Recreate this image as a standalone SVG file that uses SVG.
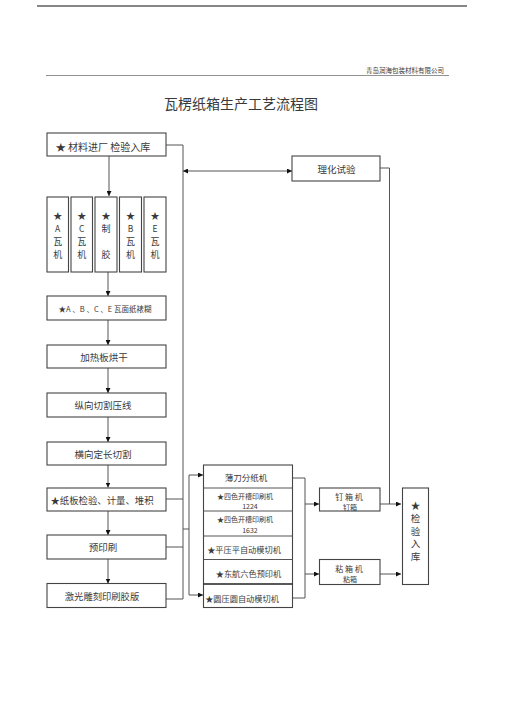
<svg xmlns="http://www.w3.org/2000/svg" width="505" height="714" viewBox="0 0 505 714">
<style>
text{font-family:"Noto Sans CJK SC","Liberation Serif",serif;fill:#3a3a3a;text-anchor:middle;dominant-baseline:central}
.box{fill:#fff;stroke:#444;stroke-width:1.1}
.ln{fill:none;stroke:#555;stroke-width:1}
</style>
<defs>
<marker id="ah" viewBox="0 0 10 10" refX="10" refY="5" markerWidth="5" markerHeight="5" orient="auto-start-reverse" markerUnits="userSpaceOnUse"><path d="M0,0L10,5L0,10z" fill="#111"/></marker>
</defs>
<rect width="505" height="714" fill="#fff"/>
<line x1="37" y1="6" x2="467" y2="6" stroke="#111" stroke-width="1.2"/>
<text x="444" y="70" style="font-size:6.5px;text-anchor:end">青岛润海包装材料有限公司</text>
<line x1="46" y1="75.5" x2="449" y2="75.5" stroke="#777" stroke-width="0.8"/>
<text x="241" y="103" style="font-size:14px">瓦楞纸箱生产工艺流程图</text>

<g id="connectors">
<line class="ln" x1="109" y1="156" x2="109" y2="196" marker-end="url(#ah)"/>
<line class="ln" x1="108" y1="272" x2="108" y2="296" marker-end="url(#ah)"/>
<line class="ln" x1="108" y1="320" x2="108" y2="345" marker-end="url(#ah)"/>
<line class="ln" x1="108" y1="368" x2="108" y2="393" marker-end="url(#ah)"/>
<line class="ln" x1="108" y1="417" x2="108" y2="442" marker-end="url(#ah)"/>
<line class="ln" x1="108" y1="465" x2="108" y2="487.5" marker-end="url(#ah)"/>
<line class="ln" x1="108" y1="511" x2="108" y2="535" marker-end="url(#ah)"/>
<line class="ln" x1="108" y1="559" x2="108" y2="583.5" marker-end="url(#ah)"/>
<polyline class="ln" points="166,145 183,145 183,599 166,599"/>
<line class="ln" x1="166" y1="499" x2="183" y2="499"/>
<line class="ln" x1="166" y1="547" x2="183" y2="547"/>
<line class="ln" x1="183" y1="171" x2="292" y2="171" marker-start="url(#ah)" marker-end="url(#ah)"/>
<polyline class="ln" points="380,168 389.5,168 389.5,504"/>
<line class="ln" x1="183" y1="529" x2="189" y2="529"/>
<polyline class="ln" points="203,475 189,475 189,595 203,595" marker-start="url(#ah)" marker-end="url(#ah)"/>
<polyline class="ln" points="292,478 305,478 305,598 292,598"/>
<line class="ln" x1="305" y1="504" x2="319" y2="504" marker-end="url(#ah)"/>
<line class="ln" x1="305" y1="574" x2="319" y2="574" marker-end="url(#ah)"/>
<line class="ln" x1="380" y1="504" x2="401" y2="504" marker-end="url(#ah)"/>
<line class="ln" x1="380" y1="574" x2="401" y2="574" marker-end="url(#ah)"/>
</g>

<g id="n-start"><rect class="box" x="47" y="133" width="119" height="23"/><text x="103" y="146" style="font-size:10px">★ 材料进厂  检验入库</text></g>
<g id="n-lihua"><rect class="box" x="292" y="156" width="88" height="25"/><text x="336.5" y="168.5" style="font-size:9.5px">理化试验</text></g>

<g id="n-a"><rect class="box" x="47" y="197" width="21.5" height="75"/><text x="57.7" y="215" style="font-size:9px">★</text><text x="57.7" y="228" style="font-size:8.5px">A</text><text x="57.7" y="241" style="font-size:9px">瓦</text><text x="57.7" y="254" style="font-size:9px">机</text></g>
<g id="n-c"><rect class="box" x="71" y="197" width="21.5" height="75"/><text x="81.7" y="215" style="font-size:9px">★</text><text x="81.7" y="228" style="font-size:8.5px">C</text><text x="81.7" y="241" style="font-size:9px">瓦</text><text x="81.7" y="254" style="font-size:9px">机</text></g>
<g id="n-glue"><rect class="box" x="95" y="197" width="22" height="75"/><text x="106" y="215" style="font-size:9px">★</text><text x="106" y="228" style="font-size:9px">制</text><text x="106" y="254" style="font-size:9px">胶</text></g>
<g id="n-b"><rect class="box" x="119.5" y="197" width="22" height="75"/><text x="130.5" y="215" style="font-size:9px">★</text><text x="130.5" y="228" style="font-size:8.5px">B</text><text x="130.5" y="241" style="font-size:9px">瓦</text><text x="130.5" y="254" style="font-size:9px">机</text></g>
<g id="n-e"><rect class="box" x="144" y="197" width="22" height="75"/><text x="155" y="215" style="font-size:9px">★</text><text x="155" y="228" style="font-size:8.5px">E</text><text x="155" y="241" style="font-size:9px">瓦</text><text x="155" y="254" style="font-size:9px">机</text></g>

<g id="n-mount"><rect class="box" x="47" y="296" width="119" height="24"/><text x="105" y="308" style="font-size:7.5px">★A 、B 、C 、E 瓦面纸裱糊</text></g>
<g id="n-dry"><rect class="box" x="47" y="345" width="119" height="23"/><text x="104" y="357" style="font-size:9.5px">加热板烘干</text></g>
<g id="n-slit"><rect class="box" x="47" y="393" width="119" height="24"/><text x="103" y="405" style="font-size:9.5px">纵向切割压线</text></g>
<g id="n-cut"><rect class="box" x="47" y="442" width="119" height="23"/><text x="103" y="454" style="font-size:9.5px">横向定长切割</text></g>
<g id="n-check"><rect class="box" x="47" y="488" width="119" height="23"/><text x="102" y="500" style="font-size:9.4px">★纸板检验、计量、堆积</text></g>
<g id="n-preprint"><rect class="box" x="47" y="535" width="119" height="24"/><text x="103" y="547" style="font-size:9.5px">预印刷</text></g>
<g id="n-laser"><rect class="box" x="47" y="583.5" width="119" height="24"/><text x="102" y="596" style="font-size:9.3px">激光雕刻印刷胶版</text></g>

<g id="n-machines">
<rect class="box" x="203.5" y="465" width="89" height="142.5"/>
<line class="ln" x1="203.5" y1="488" x2="292.5" y2="488"/>
<line class="ln" x1="203.5" y1="511" x2="292.5" y2="511"/>
<line class="ln" x1="203.5" y1="536" x2="292.5" y2="536"/>
<line class="ln" x1="203.5" y1="559.5" x2="292.5" y2="559.5"/>
<line x1="203.5" y1="584" x2="292.5" y2="584" stroke="#222" stroke-width="1.5"/>
</g>
<g id="n-m1"><text x="246" y="476.5" style="font-size:8.5px">薄刀分纸机</text></g>
<g id="n-m2"><text x="245" y="496" style="font-size:7px">★四色开槽印刷机</text><text x="250" y="506" style="font-size:7px">1224</text></g>
<g id="n-m3"><text x="245" y="519" style="font-size:7px">★四色开槽印刷机</text><text x="250" y="530" style="font-size:7px">1632</text></g>
<g id="n-m4"><text x="244" y="548.5" style="font-size:8.2px">★平压平自动模切机</text></g>
<g id="n-m5"><text x="248.5" y="573" style="font-size:8.2px">★东航六色预印机</text></g>
<g id="n-m6"><text x="242" y="597.5" style="font-size:8.2px">★圆压圆自动模切机</text></g>

<g id="n-staple"><rect class="box" x="319.5" y="488" width="60.5" height="23"/><text x="349" y="496.5" style="font-size:8px">钉 箱 机</text><text x="350" y="506.5" style="font-size:7px">钉箱</text></g>
<g id="n-glue2"><rect class="box" x="319.5" y="559.5" width="60.5" height="25"/><text x="349" y="568" style="font-size:8px">粘 箱 机</text><text x="350" y="579" style="font-size:7px">粘箱</text></g>
<g id="n-final"><rect class="box" x="402.5" y="488" width="26" height="96.5"/><text x="415.5" y="505" style="font-size:9.5px">★</text><text x="415.5" y="518" style="font-size:9.5px">检</text><text x="415.5" y="530.5" style="font-size:9.5px">验</text><text x="415.5" y="543" style="font-size:9.5px">入</text><text x="415.5" y="555.5" style="font-size:9.5px">库</text></g>
</svg>
